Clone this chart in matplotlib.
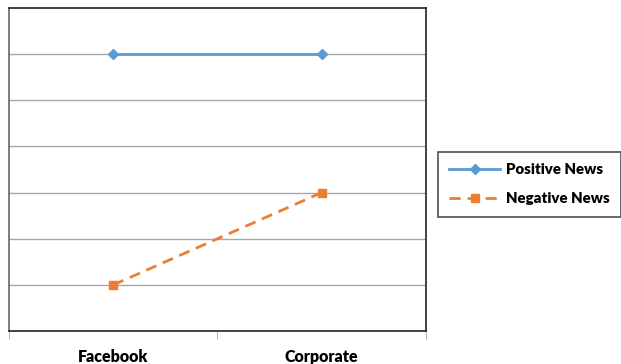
import matplotlib.pyplot as plt

categories = ["Facebook", "Corporate"]
positive = [6, 6]
negative = [1, 3]

plt.rcParams['font.family'] = ['Lato', 'DejaVu Sans']

fig = plt.figure(figsize=(6.21, 3.64), dpi=100)
ax = fig.add_axes([9 / 621, 33 / 364, 417 / 621, 323 / 364])

x = range(len(categories))
ax.plot(x, positive, color="#5B9BD5", lw=2, marker="D", ms=5, label="Positive News")
ax.plot(x, negative, color="#ED7D31", lw=2, ls=(0, (4, 2.5)), marker="s", ms=6,
        label="Negative News")

ax.set_xlim(-0.5, 1.5)
ax.set_ylim(0, 7)
ax.set_yticks(range(1, 7))
ax.set_yticklabels([])
ax.tick_params(axis="y", length=0)
ax.yaxis.grid(True, color="#A6A6A6", lw=1)
ax.set_axisbelow(True)

ax.set_xticks(list(x))
ax.set_xticklabels(categories, fontweight="heavy", fontsize=11.5)
ax.tick_params(axis="x", length=0, pad=13)
ax.set_xticks([-0.5, 0.5, 1.5], minor=True)
ax.tick_params(axis="x", which="minor", length=6, color="#A6A6A6", direction="out")

for side in ["top", "right"]:
    ax.spines[side].set_color("#222222")
ax.spines["left"].set_color("#666666")
ax.spines["bottom"].set_color("#222222")
for s in ax.spines.values():
    s.set_linewidth(1.2)

leg = fig.legend(loc="center left", bbox_to_anchor=(438 / 621, 180 / 364),
                 frameon=True, fancybox=False, edgecolor="#222222",
                 prop={"weight": "heavy", "size": 10.8}, handlelength=3.4,
                 handletextpad=0.4, borderpad=0.75, labelspacing=1.1,
                 borderaxespad=0)
leg.get_frame().set_linewidth(1.2)

fig.savefig("out.png", dpi=100)
